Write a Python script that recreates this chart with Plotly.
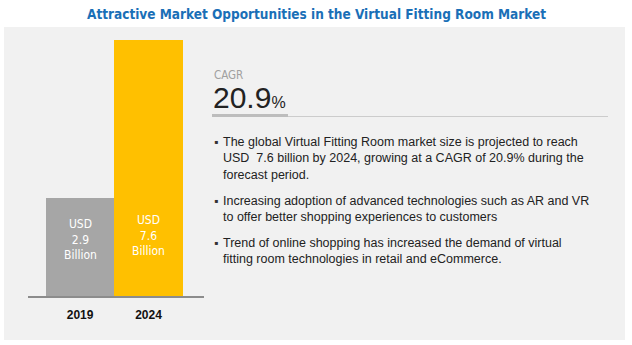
import plotly.graph_objects as go

W, H = 632, 345

# ---- data ----
years = ["2019", "2024"]
market_size = [2.9, 7.6]          # USD billion
bar_colors = ["#a6a6a6", "#ffc000"]
cagr = 20.9
title = "Attractive Market Opportunities in the Virtual Fitting Room Market"
bullets = [
    "The global Virtual Fitting Room market size is projected to reach<br>USD  7.6 billion by 2024, growing at a CAGR of 20.9% during the<br>forecast period.",
    "Increasing adoption of advanced technologies such as AR and VR<br>to offer better shopping experiences to customers",
    "Trend of online shopping has increased the demand of virtual<br>fitting room technologies in retail and eCommerce.",
]
label_y = [1.69, 1.81]   # vertical placement of bar labels (data units)

def px(x):
    return x / W

def py(y):
    return 1 - y / H

COND = "DejaVu Sans Condensed, Liberation Sans Narrow, sans-serif"
SANS = "Liberation Sans, Arial, sans-serif"

fig = go.Figure()
fig.add_trace(go.Bar(
    x=years, y=market_size, width=1.0,
    marker=dict(color=bar_colors, line=dict(width=0)),
    hoverinfo="skip",
))

annotations = []
for i, (v, ly) in enumerate(zip(market_size, label_y)):
    annotations.append(dict(
        x=i, y=ly, xref="x", yref="y",
        text=f"USD<br>{v}<br>Billion", showarrow=False,
        font=dict(family=COND, size=12, color="white"),
        align="center", xanchor="center", yanchor="middle",
    ))

# title
annotations.append(dict(
    x=0.5, y=py(14), xref="paper", yref="paper", text=f"<b>{title}</b>",
    showarrow=False, font=dict(family=COND, size=13.5, color="#1a6fb7"),
    xanchor="center", yanchor="middle",
))
# CAGR label and value
annotations.append(dict(
    x=px(212), y=py(75), xref="paper", yref="paper", text="CAGR",
    showarrow=False, font=dict(family=COND, size=11.5, color="#a0a0a0"),
    xanchor="left", yanchor="middle",
))
annotations.append(dict(
    x=px(211), y=py(97), xref="paper", yref="paper",
    text=f"{cagr}<span style='font-size:16px'>%</span>",
    showarrow=False, font=dict(family=SANS, size=30, color="#222222"),
    xanchor="left", yanchor="middle",
))

bullet_tops = [133, 192, 234]
for top, txt in zip(bullet_tops, bullets):
    annotations.append(dict(
        x=px(212), y=py(top), xref="paper", yref="paper", text="▪",
        showarrow=False, font=dict(family=SANS, size=12, color="#333333"),
        xanchor="left", yanchor="top",
    ))
    annotations.append(dict(
        x=px(221), y=py(top), xref="paper", yref="paper", text=txt,
        showarrow=False, font=dict(family=SANS, size=12.5, color="#222222"),
        xanchor="left", yanchor="top", align="left",
    ))

shapes = [
    dict(type="rect", xref="paper", yref="paper", x0=px(4), x1=px(625),
         y0=py(340), y1=py(27), fillcolor="#f1f1f1", line=dict(width=0), layer="below"),
    dict(type="line", xref="paper", yref="paper", x0=px(212), x1=px(608),
         y0=py(116.5), y1=py(116.5), line=dict(color="#cccccc", width=1)),
    dict(type="line", xref="paper", yref="paper", x0=px(212), x1=px(288),
         y0=py(115.5), y1=py(115.5), line=dict(color="#bdbdbd", width=3)),
]

fig.update_layout(
    width=W, height=H, margin=dict(l=0, r=0, t=0, b=0),
    paper_bgcolor="white", plot_bgcolor="rgba(0,0,0,0)",
    showlegend=False, bargap=0,
    annotations=annotations, shapes=shapes,
    xaxis=dict(domain=[px(28), px(204)], type="category", range=[-0.76, 1.81],
               showline=True, linecolor="#8c8c8c", linewidth=1.5,
               showgrid=False, zeroline=False, ticks="", ticklabelstandoff=7,
               tickfont=dict(family=SANS, size=12, color="#111111", weight="bold"),
               fixedrange=True),
    yaxis=dict(domain=[py(296), py(40)], range=[0, 7.6], visible=False,
               fixedrange=True),
)

fig.write_html("out.html")
